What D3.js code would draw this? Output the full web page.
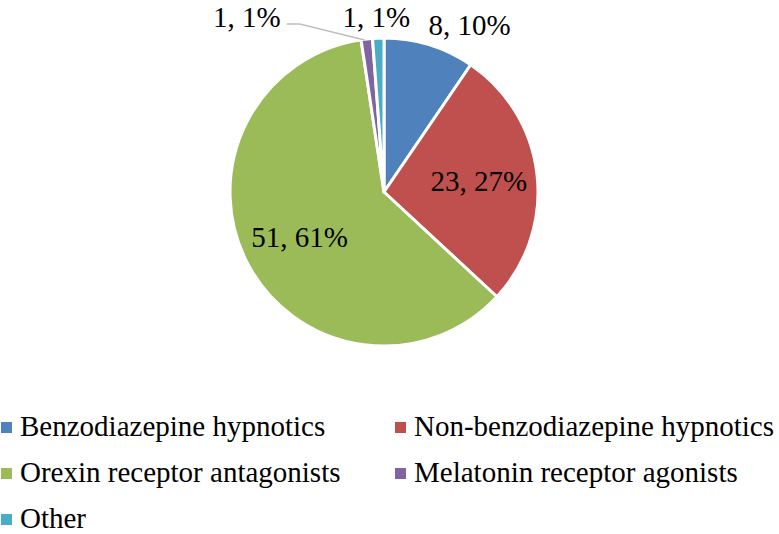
<!DOCTYPE html>
<html>
<head>
<meta charset="utf-8">
<script src="https://cdn.jsdelivr.net/npm/d3@7"></script>
<style>
  body { margin: 0; background: #fff; }
  svg { display: block; }
</style>
</head>
<body>
<script>
var categories = [ "Benzodiazepine hypnotics", "Non-benzodiazepine hypnotics",
  "Orexin receptor antagonists", "Melatonin receptor agonists", "Other" ];
var counts = [ 8, 23, 51, 1, 1 ];
var percents = [ "10%", "27%", "61%", "1%", "1%" ];
var colors = [ "#4F81BD", "#C0504D", "#9BBB59", "#8064A2", "#4BACC6" ];

var width = 779, height = 534;
var cx = 384, cy = 192, radius = 154;
var fontSize = 29;
var fontFamily = "'Liberation Serif', 'Times New Roman', Times, 'DejaVu Serif', serif";

var svg = d3.select( "body" ).append( "svg" )
  .attr( "width", width ).attr( "height", height )
  .attr( "font-family", fontFamily );

var data = categories.map( function( name, i ) {
  return { name: name, value: counts[ i ], pct: percents[ i ], color: colors[ i ] };
} );

var pie = d3.pie().sort( null ).value( function( d ) { return d.value; } );
var arcs = pie( data );
var arc = d3.arc().innerRadius( 0 ).outerRadius( radius );
var inner = d3.arc().innerRadius( radius * 0.62 ).outerRadius( radius * 0.62 );

var g = svg.append( "g" ).attr( "transform", "translate(" + cx + "," + cy + ")" );

g.selectAll( "path.slice" ).data( arcs ).enter().append( "path" )
  .attr( "class", "slice" )
  .attr( "d", arc )
  .attr( "fill", function( d ) { return d.data.color; } )
  .attr( "stroke", "#fff" )
  .attr( "stroke-width", 3 )
  .attr( "stroke-linejoin", "round" );

// point on the rim at a slice's middle angle
function rim( d, r ) {
  var a = ( d.startAngle + d.endAngle ) / 2;
  return [ Math.sin( a ) * r, -Math.cos( a ) * r ];
}

// label placement: inside for big slices, outside otherwise (Excel best fit)
var outside = {
  0: { dx: -1, dy: -10, anchor: "start" },
  3: { dx: -86, dy: -12, anchor: "end", leader: true },
  4: { dx: -2, dy: -11, anchor: "middle" }
};

arcs.forEach( function( d, i ) {
  var label = d.data.value + ", " + d.data.pct;
  var t = g.append( "text" )
    .attr( "font-family", fontFamily )
    .style( "font-size", fontSize + "px" )
    .attr( "fill", "#000" )
    .text( label );
  if( outside[ i ] ) {
    var o = outside[ i ];
    var p = rim( d, radius );
    var lx = p[ 0 ] + o.dx, ly = p[ 1 ] + o.dy;
    t.attr( "x", lx ).attr( "y", ly ).attr( "text-anchor", o.anchor );
    if( o.leader ) {
      g.insert( "polyline", "text" )
        .attr( "points", [ [ lx + 6, ly - 3 ], [ lx + 19, ly - 3 ], [ p[ 0 ] - 2, p[ 1 ] + 1 ] ].join( " " ) )
        .attr( "fill", "none" )
        .attr( "stroke", "#BFBFBF" )
        .attr( "stroke-width", 1.5 );
    }
  } else {
    var c = inner.centroid( d );
    t.attr( "x", c[ 0 ] ).attr( "y", c[ 1 ] + 10 ).attr( "text-anchor", "middle" );
  }
} );

// legend, two columns
var colX = [ 1, 395 ];
var rowY = d3.scalePoint().domain( [ 0, 1, 2 ] ).range( [ 436, 528 ] );
var legend = svg.append( "g" ).attr( "class", "legend" );
data.forEach( function( d, i ) {
  var x = colX[ i % 2 ], y = rowY( Math.floor( i / 2 ) );
  legend.append( "rect" )
    .attr( "x", x ).attr( "y", y - 14 )
    .attr( "width", 11 ).attr( "height", 11 )
    .attr( "fill", d.color );
  legend.append( "text" )
    .attr( "x", x + 19 ).attr( "y", y )
    .attr( "font-family", fontFamily )
    .style( "font-size", fontSize + "px" )
    .attr( "fill", "#000" )
    .text( d.name );
} );
</script>
</body>
</html>
